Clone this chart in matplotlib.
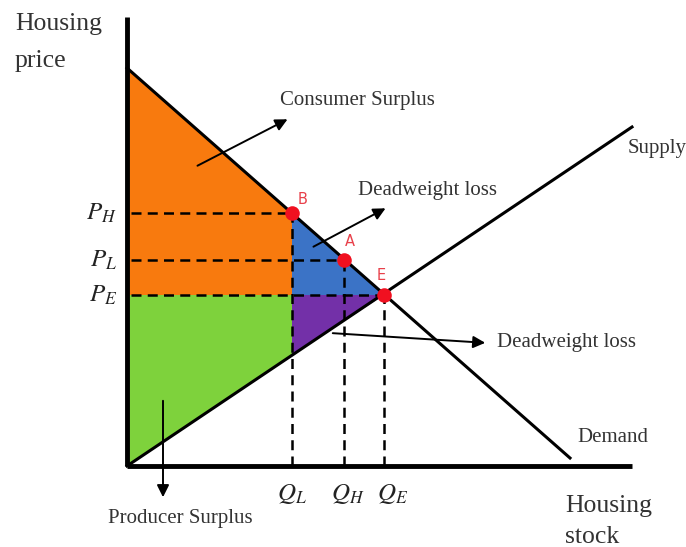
import numpy as np
import matplotlib
matplotlib.use("Agg")
import matplotlib.pyplot as plt

# curves (quantity, price)
demand_q = [0.0, 44.3]
demand_p = [39.8, 0.8]
supply_q = [0.0, 50.5]
supply_p = [0.0, 33.9]

# marked levels
q_names = ["$Q_L$", "$Q_H$", "$Q_E$"]
q_vals = [16.5, 21.7, 25.7]
p_names = ["$P_H$", "$P_L$", "$P_E$"]
p_vals = [25.3, 20.6, 17.1]
pt_names = ["B", "A", "E"]

x_end = 50.5
y_end = 44.9

plt.rcParams["font.family"] = ["Liberation Serif", "DejaVu Serif"]
plt.rcParams["mathtext.fontset"] = "stix"

fig = plt.figure(figsize=(6.86, 5.47), dpi=100)
ax = fig.add_axes([0, 0, 1, 1])
ax.set_xlim(-12.7, 55.9)
ax.set_ylim(-8.1, 46.6)
ax.axis("off")

def px(x, y):
    # picture pixel -> data units
    return ((x - 127) / 10.0, (466 - y) / 10.0)

QL, QH, QE = q_vals
PH, PL, PE = p_vals
sup_at_QL = np.interp(QL, supply_q, supply_p)

# areas
ax.fill([0, 0, QL, QL], [PE, demand_p[0], PH, PE], color="#F87A0E", lw=0)
ax.fill([0, 0, QL, QL], [0, PE, PE, sup_at_QL], color="#7ED23C", lw=0)
ax.fill([QL, QL, QE], [PE, PH, PE], color="#3B73C6", lw=0)
ax.fill([QL, QL, QE], [sup_at_QL, PE, PE], color="#7330A8", lw=0)

# dashed guides
for q, p in zip(q_vals, p_vals):
    ax.plot([0.4, q], [p, p], color="black", lw=1.8, ls=(0, (4, 2.5)))
    ax.plot([q, q], [0, p], color="black", lw=1.8, ls=(0, (4, 2.5)))

# curves
ax.plot(demand_q, demand_p, color="black", lw=2.2)
ax.plot(supply_q, supply_p, color="black", lw=2.2)

# axes
ax.plot([0, 0], [0, y_end], color="black", lw=3.5, solid_capstyle="butt")
ax.plot([0, x_end], [0, 0], color="black", lw=3.5, solid_capstyle="butt")

# points
ax.scatter(q_vals, p_vals, s=110, color="#F01020", zorder=5, lw=0)
for name, q, p, dx, dy in zip(pt_names, q_vals, p_vals, [1.1, 0.6, -0.3], [1.3, 1.9, 1.9]):
    ax.text(q + dx, p + dy, name, color="#E8404A", fontsize=10.5,
            family="DejaVu Sans", ha="center", va="center")

# tick-like labels
for name, p in zip(p_names, p_vals):
    ax.text(-1.0, p, name, fontsize=18, color="#222222", ha="right", va="center")
for name, q, off in zip(q_names, q_vals, [0.0, 0.4, 0.9]):
    ax.text(q + off, -2.8, name, fontsize=18, color="#222222", ha="center", va="center")

# axis titles
ax.text(*px(15, 30), "Housing", fontsize=18.5, color="#333333", va="baseline")
ax.text(*px(15, 67), "price", fontsize=18.5, color="#333333", va="baseline")
ax.text(*px(565, 512), "Housing", fontsize=18.5, color="#333333", va="baseline")
ax.text(*px(565, 543), "stock", fontsize=18.5, color="#333333", va="baseline")

# annotations
txt = dict(fontsize=15, color="#333333", va="center")
arrow = dict(arrowstyle="-|>", color="black", lw=1.4, mutation_scale=18)
ax.annotate("", xy=px(290, 118), xytext=px(195, 167), arrowprops=arrow)
ax.text(*px(280, 100), "Consumer Surplus", **txt)

ax.annotate("", xy=px(388, 207), xytext=px(311, 248), arrowprops=arrow)
ax.text(*px(358, 191), "Deadweight loss", **txt)

ax.annotate("", xy=px(488, 343), xytext=px(330, 333), arrowprops=arrow)
ax.text(*px(497, 343), "Deadweight loss", **txt)

ax.annotate("", xy=px(163, 500), xytext=px(163, 398), arrowprops=arrow)
ax.text(*px(108, 518), "Producer Surplus", **txt)

ax.text(*px(628, 148), "Supply", **txt)
ax.text(*px(577, 437), "Demand", **txt)

fig.savefig("out.png", dpi=100)
